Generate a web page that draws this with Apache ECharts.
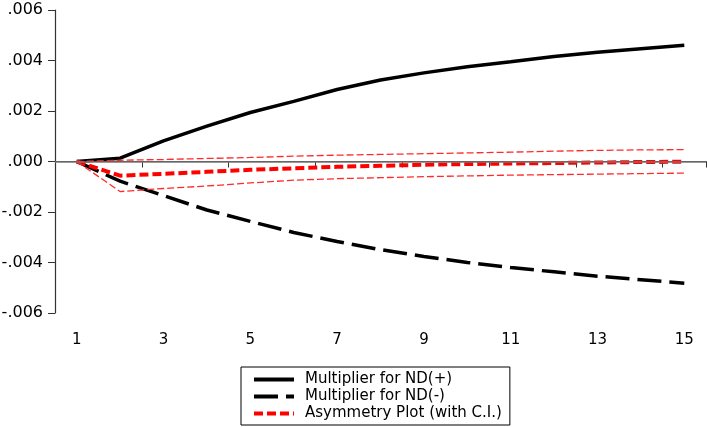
<!DOCTYPE html>
<html>
<head>
<meta charset="utf-8">
<script src="https://cdn.jsdelivr.net/npm/echarts@6/dist/echarts.min.js"></script>
<style>
html,body{margin:0;padding:0;background:#fff;}
#chart{width:707px;height:427px;}
</style>
</head>
<body>
<div id="chart"></div>
<script>
var periods = ['1','2','3','4','5','6','7','8','9','10','11','12','13','14','15'];
var ndPlus  = [0, 0.00013, 0.00082, 0.00140, 0.00194, 0.00238, 0.00285, 0.00323, 0.00351, 0.00375, 0.00395, 0.00416, 0.00433, 0.00447, 0.00460];
var ndMinus = [0, -0.00078, -0.00135, -0.00192, -0.00237, -0.00281, -0.00317, -0.00349, -0.00376, -0.00400, -0.00420, -0.00437, -0.00454, -0.00468, -0.00482];
var asym    = [0, -0.00056, -0.00049, -0.00041, -0.00033, -0.00027, -0.00021, -0.00017, -0.00013, -0.00010, -0.00008, -0.00006, -0.00004, -0.00002, -0.00001];
var ciUpper = [0, 0.00005, 0.00008, 0.00012, 0.00016, 0.00021, 0.00025, 0.00028, 0.00031, 0.00034, 0.00037, 0.00041, 0.00044, 0.00046, 0.00047];
var ciLower = [0, -0.00119, -0.00107, -0.00097, -0.00085, -0.00074, -0.00068, -0.00064, -0.00060, -0.00057, -0.00054, -0.00052, -0.00050, -0.00048, -0.00046];
var legendNames = ['Multiplier for ND(+)', 'Multiplier for ND(-)', 'Asymmetry Plot (with C.I.)'];

var FONT = 'DejaVu Sans';
var chart = echarts.init(document.getElementById('chart'));
function fmt(v){
  var s = Number(v).toFixed(3);
  return s.replace('0.', '.');
}
chart.setOption({
  animation: false,
  backgroundColor: '#fff',
  grid: {left: 55, right: 1, top: 10, bottom: 114, containLabel: false, outerBoundsMode: 'none'},
  legend: {
    data: legendNames,
    orient: 'vertical',
    left: 241,
    top: 367,
    padding: [5, 8, 4, 11],
    itemGap: 2,
    itemWidth: 40,
    itemHeight: 14,
    borderColor: '#000',
    borderWidth: 1,
    itemStyle: {color: 'rgba(0,0,0,0)', borderWidth: 0, borderColor: 'rgba(0,0,0,0)'},
    lineStyle: {width: 4},
    textStyle: {fontFamily: FONT, fontSize: 15, color: '#000', padding: [0, 0, 0, 6]}
  },
  xAxis: {
    type: 'category',
    data: periods,
    boundaryGap: true,
    axisLine: {lineStyle: {color: '#333', width: 1.2}},
    axisTick: {show: true, length: 6, inside: false, lineStyle: {color: '#333'}},
    axisLabel: {interval: 1, margin: 20, fontFamily: FONT, fontSize: 15, color: '#000'},
    splitLine: {show: false}
  },
  yAxis: {
    type: 'value',
    min: -0.006,
    max: 0.006,
    interval: 0.002,
    axisLine: {show: true, lineStyle: {color: '#333', width: 1.2}},
    axisTick: {show: true, length: 7, lineStyle: {color: '#333'}},
    axisLabel: {margin: 12, fontFamily: FONT, fontSize: 16, color: '#000', formatter: fmt},
    splitLine: {show: false}
  },
  series: [
    {
      name: 'Multiplier for ND(+)', type: 'line', data: ndPlus, symbol: 'none',
      lineStyle: {color: '#000', width: 3.5, type: 'solid'}, itemStyle: {color: '#000'},
      markLine: {
        silent: true, symbol: 'none', label: {show: false},
        lineStyle: {color: '#777', width: 1.5, type: 'solid'},
        data: [{yAxis: 0}]
      },
      z: 3
    },
    {
      name: 'Multiplier for ND(-)', type: 'line', data: ndMinus, symbol: 'none',
      lineStyle: {color: '#000', width: 3.5, type: [24, 8]}, itemStyle: {color: '#000'}, z: 3
    },
    {
      name: 'Asymmetry Plot (with C.I.)', type: 'line', data: asym, symbol: 'none',
      lineStyle: {color: '#ff0000', width: 4, type: [9, 4]}, itemStyle: {color: '#ff0000'}, z: 4
    },
    {
      name: 'CI upper', type: 'line', data: ciUpper, symbol: 'none',
      lineStyle: {color: '#ff2a2a', width: 1.3, type: [7, 3]}, itemStyle: {color: '#ff2a2a'}, z: 4
    },
    {
      name: 'CI lower', type: 'line', data: ciLower, symbol: 'none',
      lineStyle: {color: '#ff2a2a', width: 1.3, type: [7, 3]}, itemStyle: {color: '#ff2a2a'}, z: 4
    }
  ]
});
</script>
</body>
</html>
